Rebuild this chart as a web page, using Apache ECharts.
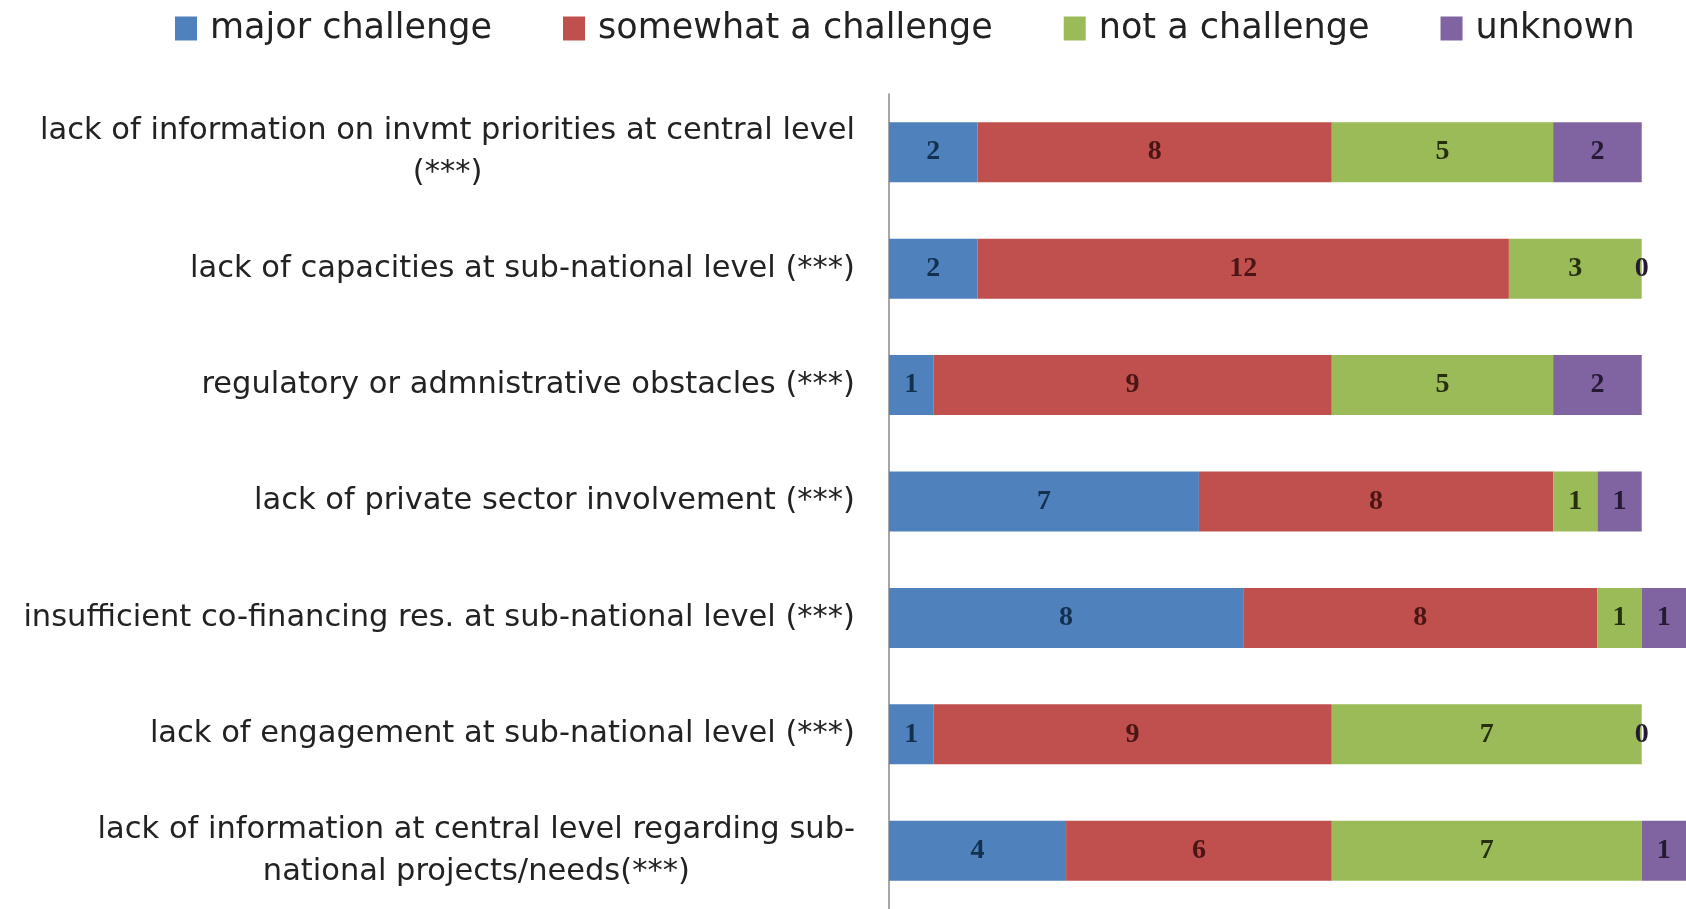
<!DOCTYPE html>
<html><head><meta charset="utf-8">
<script src="https://cdn.jsdelivr.net/npm/echarts@6/dist/echarts.min.js"></script>
<style>html,body{margin:0;padding:0;background:#fff}#c{width:1686px;height:909px}</style>
</head><body><div id="c"></div>
<script>
const categories = [
  "lack of information on invmt priorities at central level\n(***)",
  "lack of capacities at sub-national level (***)",
  "regulatory or admnistrative obstacles (***)",
  "lack of private sector involvement (***)",
  "insufficient co-financing res. at sub-national level (***)",
  "lack of engagement at sub-national level (***)",
  "lack of information at central level regarding sub-\nnational projects/needs(***)"
];
const seriesNames = ["major challenge", "somewhat a challenge", "not a challenge", "unknown"];
const majorChallenge = [2, 2, 1, 7, 8, 1, 4];
const somewhatChallenge = [8, 12, 9, 8, 8, 9, 6];
const notChallenge = [5, 3, 5, 1, 1, 7, 7];
const unknown = [2, 0, 2, 1, 1, 0, 1];
const values = [majorChallenge, somewhatChallenge, notChallenge, unknown];
const colors = ["#4F81BD", "#C0504D", "#9BBB59", "#8064A2"];
const labelColors = ["#14304F", "#4A1514", "#26300F", "#241A33"];

const catFont = {fontFamily: 'DejaVu Sans', fontSize: 30.5, color: '#222', lineHeight: 42};

const chart = echarts.init(document.getElementById('c'));
chart.setOption({
  animation: false,
  legend: {
    top: 6, left: 170,
    itemWidth: 22, itemHeight: 24, itemGap: 71,
    icon: 'rect',
    textStyle: {fontFamily: 'DejaVu Sans', fontSize: 35, color: '#222', padding: [0, 0, 0, 8]},
    data: seriesNames
  },
  grid: {left: 889, right: 0, top: 94, bottom: 0, containLabel: false},
  xAxis: {type: 'value', min: 0, max: 18, show: false},
  yAxis: {
    type: 'category', inverse: true, data: categories,
    axisLine: {show: true, lineStyle: {color: '#888', width: 1.5}},
    axisTick: {show: false},
    axisLabel: Object.assign({
      margin: 34, align: 'right',
      formatter: v => v.split('\n').map(l => '{c|' + l + '}').join('\n'),
      rich: {c: Object.assign({align: 'center'}, catFont)}
    }, catFont)
  },
  series: values.map((v, i) => ({
    name: seriesNames[i], type: 'bar', stack: 'total',
    data: v, barWidth: 60,
    itemStyle: {color: colors[i]},
    label: {show: true, position: 'inside', fontFamily: 'Liberation Serif', fontSize: 28, fontWeight: 'bold', color: labelColors[i]}
  }))
});
</script></body></html>
